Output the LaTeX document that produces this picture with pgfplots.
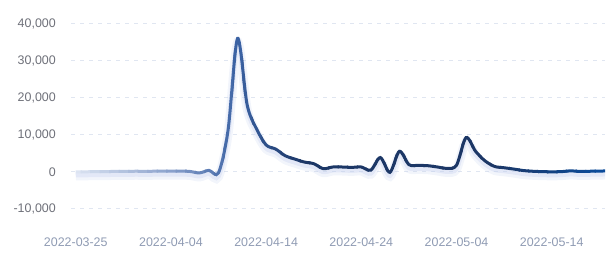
\documentclass[border=0pt]{standalone}
\usepackage{pgfplots}
\pgfplotsset{compat=1.18}
\usepackage{pgfplotstable}
\usepackage{fontspec}
\setmainfont{Liberation Sans}

\definecolor{gridc}{HTML}{E0E6F1}
\definecolor{ylab}{HTML}{6E7079}
\definecolor{xlab}{HTML}{8F9BB3}
\definecolor{c0}{HTML}{DCE4F2}
\definecolor{c10}{HTML}{8AA1CC}
\definecolor{c17}{HTML}{3B62A3}
\definecolor{c24}{HTML}{1C3766}
\definecolor{c56}{HTML}{0B4B9A}
\definecolor{shad}{HTML}{C5D0EE}

\pgfplotstableread{
d v
0 0
1 50
2 100
3 100
4 150
5 150
6 200
7 200
8 200
9 250
10 250
11 250
12 150
13 -250
14 450
15 -200
16 11300
17 36100
18 18200
19 11600
20 7300
21 6200
22 4400
23 3500
24 2700
25 2250
26 900
27 1350
28 1350
29 1250
30 1350
31 500
32 3900
33 -100
34 5600
35 2000
36 1800
37 1700
38 1350
39 1000
40 1800
41 9300
42 5600
43 3000
44 1500
45 1150
46 800
47 400
48 200
49 100
50 50
51 100
52 300
53 150
54 200
55 250
56 300
}\data

\newcommand{\stripaxis}[3]{%
\pgfmathsetmacro\stripx{71+(#1+0.5)*9.51872}%
\pgfmathsetmacro\stripw{(#2-(#1))*9.51872}%
\begin{axis}[at={(\stripx bp,51bp)}, anchor=south west, scale only axis,
  width=\stripw bp, height=185bp, xmin=#1, xmax=#2, ymin=-10000, ymax=40000, hide axis]
\addplot[#3, line width=3bp, smooth] table[x=d,y=v] {\data};
\end{axis}}

\begin{document}
\begin{tikzpicture}
\begin{axis}[
  at={(71bp,51bp)}, anchor=south west,
  scale only axis, width=534bp, height=185bp,
  xmin=-0.5, xmax=55.6, ymin=-10000, ymax=40000,
  axis line style={draw=none},
  tick style={draw=none},
  major tick length=0pt,
  ytick={-10000,0,10000,20000,30000,40000},
  ymajorgrids,
  grid style={gridc, dash pattern=on 4bp off 5bp, line width=1bp},
  xtick={0,10,20,30,40,50},
  xticklabels={2022-03-25,2022-04-04,2022-04-14,2022-04-24,2022-05-04,2022-05-14},
  scaled y ticks=false,
  /pgf/number format/.cd, fixed, 1000 sep={,}, assume math mode=true,
  /pgfplots/.cd,
  yticklabel style={font=\fontsize{12.5}{15}\selectfont, text=ylab, anchor=east, inner sep=0pt, xshift=-15bp},
  xticklabel style={font=\fontsize{12.5}{15}\selectfont, text=xlab, anchor=center, inner sep=0pt, yshift=-33.5bp},
  clip=true,
]
\addplot[shad, line width=9bp, opacity=0.22, smooth, yshift=-4bp] table[x=d,y=v] {\data};
\addplot[shad, line width=5bp, opacity=0.35, smooth, yshift=-3bp] table[x=d,y=v] {\data};
\end{axis}
\foreach \t in {0,...,55}{%
  \ifnum\t<10 \pgfmathsetmacro\pct{\t*10}\colorlet{sc}{c10!\pct!c0}%
  \else\ifnum\t<17 \pgfmathsetmacro\pct{(\t-10)/7*100}\colorlet{sc}{c17!\pct!c10}%
  \else\ifnum\t<24 \pgfmathsetmacro\pct{(\t-17)/7*100}\colorlet{sc}{c24!\pct!c17}%
  \else\ifnum\t<44 \colorlet{sc}{c24}%
  \else \pgfmathsetmacro\pct{(\t-44)/11*100}\colorlet{sc}{c56!\pct!c24}%
  \fi\fi\fi\fi
  \pgfmathsetmacro\stripa{\t-0.5}%
  \pgfmathsetmacro\stripb{min(\t+0.65,55.6)}%
  \stripaxis{\stripa}{\stripb}{sc}%
}
\pgfresetboundingbox
\useasboundingbox (0,0) rectangle (606bp,260bp);
\end{tikzpicture}
\end{document}
